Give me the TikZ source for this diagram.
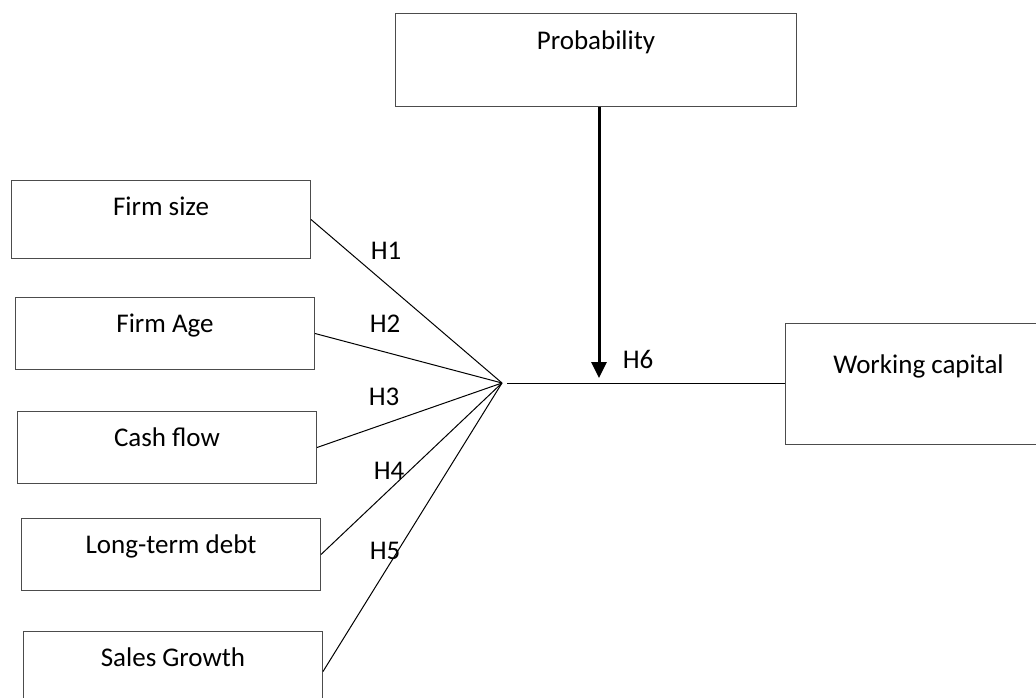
\documentclass[tikz,border=0pt]{standalone}
\usepackage{fontspec}
\setmainfont{Carlito}
\usetikzlibrary{arrows.meta}
\begin{document}
\begin{tikzpicture}[x=1pt,y=-1pt,
  font=\fontsize{27}{32}\selectfont,
  box/.style={draw=black!70,line width=1pt,inner sep=0pt,anchor=north west,
    text height=35pt,text depth=37pt},
  hyp/.style={anchor=base,inner sep=0pt},
  modarrow/.style={line width=3pt,-{Triangle[width=15pt,length=16pt]}}]

\useasboundingbox (0,0) rectangle (1036,698);

\node (size) at (11,180) [box,minimum width=299pt,text depth=43pt] {Firm size};
\node (age) at (15,297) [box,minimum width=299pt] {Firm Age};
\node (cash) at (17,411) [box,minimum width=299pt] {Cash flow};
\node (debt) at (21,518) [box,minimum width=299pt] {Long-term debt};
\node (sales) at (23,631) [box,minimum width=299pt,text depth=45pt] {Sales Growth};
\node (prob) at (395,13) [box,minimum width=401pt,text height=36pt,text depth=57pt] {Probability};
\node (wc) at (785,323) [box,minimum width=266pt,text height=50pt,text depth=71pt] {Working capital};

\coordinate (hub) at (502,383);
\coordinate (hubr) at (507,383);

\draw [line width=1pt] (size.east) -- (hub);
\draw [line width=1pt] (age.east) -- (hub);
\draw [line width=1pt] (cash.east) -- (hub);
\draw [line width=1pt] (debt.east) -- (hub);
\draw [line width=1pt] (sales.east) -- (hub);
\draw [line width=1pt] (hubr) -- (hubr -| wc.west);
\draw [modarrow] ([xshift=3pt]prob.south) -- ([xshift=3pt,yshift=5pt]prob.south |- hub);

\node (h1) at (386,259) [hyp] {H1};
\node (h2) at (385,332) [hyp] {H2};
\node (h3) at (384,405) [hyp] {H3};
\node (h4) at (389,479) [hyp] {H4};
\node (h5) at (385,559) [hyp] {H5};
\node (h6) at (638,368) [hyp] {H6};

\end{tikzpicture}
\end{document}
